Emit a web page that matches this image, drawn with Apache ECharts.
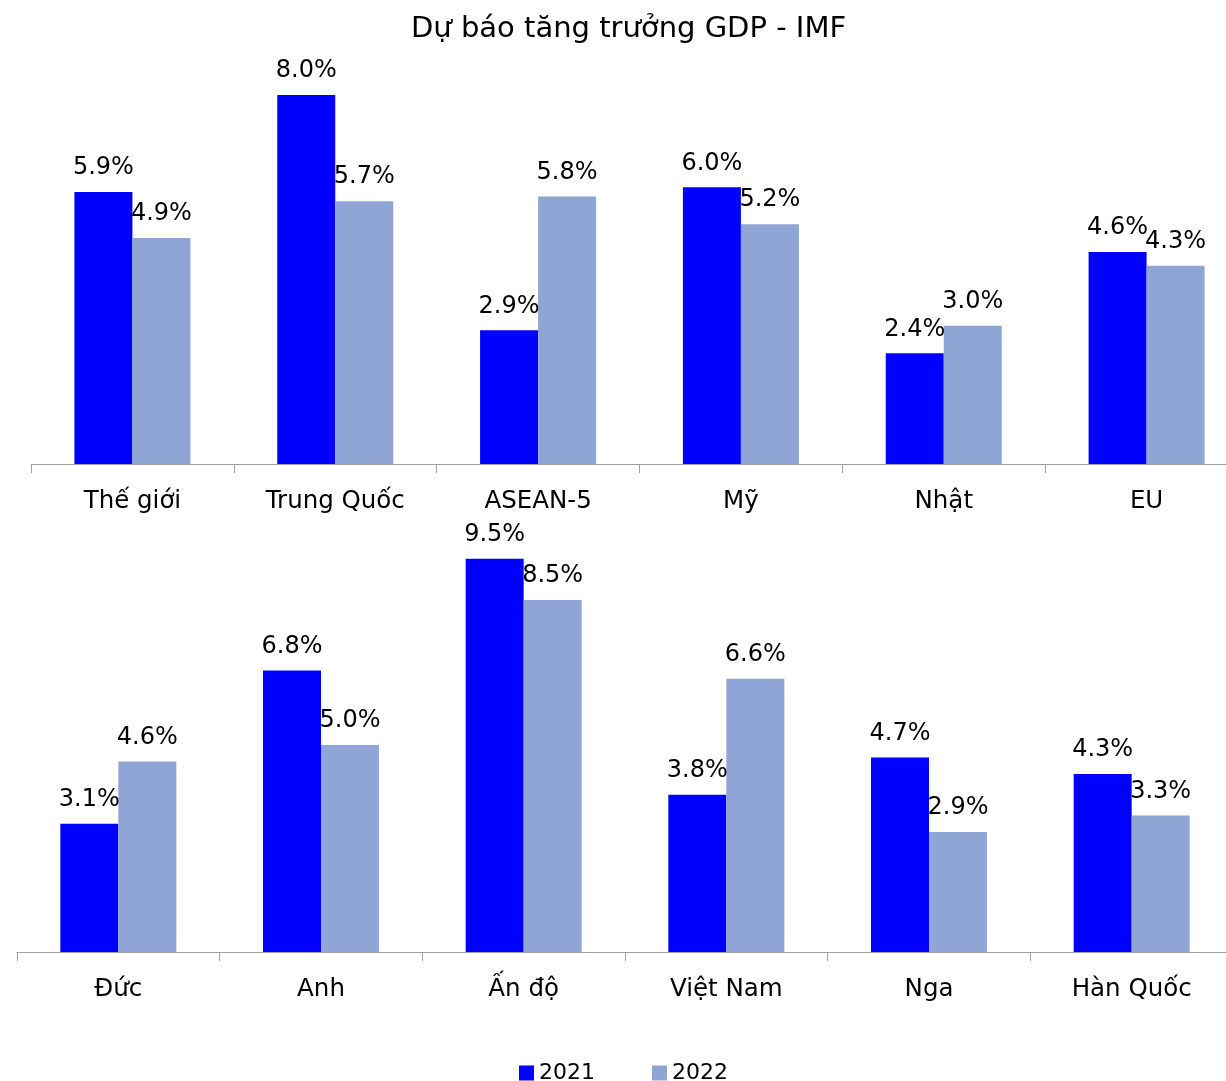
<!DOCTYPE html>
<html>
<head>
<meta charset="utf-8">
<script src="https://cdn.jsdelivr.net/npm/echarts@6/dist/echarts.min.js"></script>
<style>
  html, body { margin: 0; padding: 0; background: #fff; }
  #chart { width: 1226px; height: 1081px; }
</style>
</head>
<body>
<div id="chart"></div>
<script>
// ── Dữ liệu ──
const TOP_CATEGORIES = ["Thế giới", "Trung Quốc", "ASEAN-5", "Mỹ", "Nhật", "EU"];
const TOP_2021 = [5.9, 8.0, 2.9, 6.0, 2.4, 4.6];
const TOP_2022 = [4.9, 5.7, 5.8, 5.2, 3.0, 4.3];

const BOTTOM_CATEGORIES = ["Đức", "Anh", "Ấn độ", "Việt Nam", "Nga", "Hàn Quốc"];
const BOTTOM_2021 = [3.1, 6.8, 9.5, 3.8, 4.7, 4.3];
const BOTTOM_2022 = [4.6, 5.0, 8.5, 6.6, 2.9, 3.3];

const SERIES_NAMES = ["2021", "2022"];

// ── Màu ──
const COLOR_2021 = "#0000FF";
const COLOR_2022 = "#8FA5D5";
const FONT = "DejaVu Sans";

const chart = echarts.init(document.getElementById("chart"));

function xAxis(gridIndex, data) {
  return {
    type: "category",
    gridIndex,
    data,
    axisLine: { lineStyle: { color: "#A0A0A0", width: 1 } },
    axisTick: { show: true, length: 9, lineStyle: { color: "#A0A0A0" } },
    axisLabel: { color: "#000", fontFamily: FONT, fontSize: 24.5, margin: 25 },
  };
}

function yAxis(gridIndex, max) {
  return {
    type: "value",
    gridIndex,
    min: 0,
    max,
    show: false,
    splitLine: { show: false },
  };
}

function bar(name, idx, data, color) {
  return {
    name,
    type: "bar",
    xAxisIndex: idx,
    yAxisIndex: idx,
    data,
    barWidth: 58,
    barGap: "0%",
    itemStyle: { color },
    label: {
      show: true,
      position: "top",
      distance: 12,
      color: "#000",
      fontFamily: FONT,
      fontSize: 24,
      formatter: (p) => p.value.toFixed(1) + "%",
    },
  };
}

chart.setOption({
  animation: false,
  title: {
    text: "Dự báo tăng trưởng GDP - IMF",
    left: 406,
    top: 10,
    textStyle: { fontFamily: FONT, fontSize: 29, fontWeight: "normal", color: "#000" },
  },
  legend: {
    top: 1057,
    left: 514,
    itemWidth: 15,
    itemHeight: 15,
    itemGap: 57,
    icon: "rect",
    textStyle: { fontFamily: FONT, fontSize: 22, color: "#000" },
    data: SERIES_NAMES,
  },
  // lưới rộng hơn khung: cột cuối bị cắt như ảnh gốc
  grid: [
    { left: 31, width: 1217, top: 49, height: 415, outerBoundsMode: "none" },
    { left: 17, width: 1216, top: 538, height: 414, outerBoundsMode: "none" },
  ],
  xAxis: [xAxis(0, TOP_CATEGORIES), xAxis(1, BOTTOM_CATEGORIES)],
  yAxis: [yAxis(0, 9), yAxis(1, 10)],
  series: [
    bar(SERIES_NAMES[0], 0, TOP_2021, COLOR_2021),
    bar(SERIES_NAMES[1], 0, TOP_2022, COLOR_2022),
    bar(SERIES_NAMES[0], 1, BOTTOM_2021, COLOR_2021),
    bar(SERIES_NAMES[1], 1, BOTTOM_2022, COLOR_2022),
  ],
});
</script>
</body>
</html>
